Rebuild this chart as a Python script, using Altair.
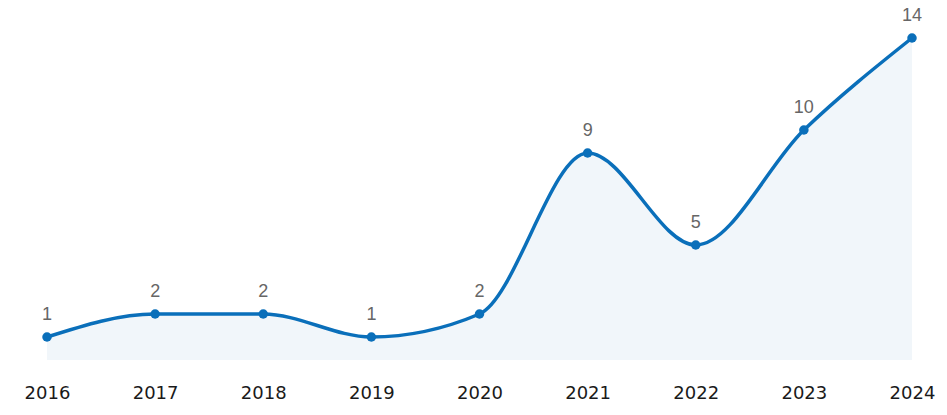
import altair as alt
import pandas as pd

years = [2016, 2017, 2018, 2019, 2020, 2021, 2022, 2023, 2024]
counts = [1, 2, 2, 1, 2, 9, 5, 10, 14]

df = pd.DataFrame({"year": years, "count": counts})

x = alt.X("year:Q", scale=alt.Scale(domain=[2016, 2024], nice=False, zero=False),
          axis=alt.Axis(format="d", values=years, grid=False, domain=False, ticks=False,
                        labelPadding=24, labelFontSize=18, labelColor="#1a1a1a",
                        labelFont="DejaVu Sans", title=None, labelFlush=False))
y = alt.Y("count:Q", scale=alt.Scale(domain=[0, 14], nice=False),
          axis=None)

base = alt.Chart(df).encode(x=x, y=y)

area = base.mark_area(interpolate="monotone", color="#f1f6fa")
line = base.mark_line(interpolate="monotone", color="#0a6fba", strokeWidth=3.5)
pts = base.mark_circle(size=90, color="#0a6fba", opacity=1)
labels = base.mark_text(dy=-22, fontSize=18, color="#666666", font="Liberation Sans").encode(
    text="count:Q")

chart = (area + line + pts + labels).properties(
    width=865, height=322,
    autosize=alt.AutoSizeParams(type="none"),
    padding={"left": 39, "top": 30, "right": 27, "bottom": 47},
).configure_view(stroke=None)

chart.save("out.html", embed_options={"renderer": "svg", "actions": False})
